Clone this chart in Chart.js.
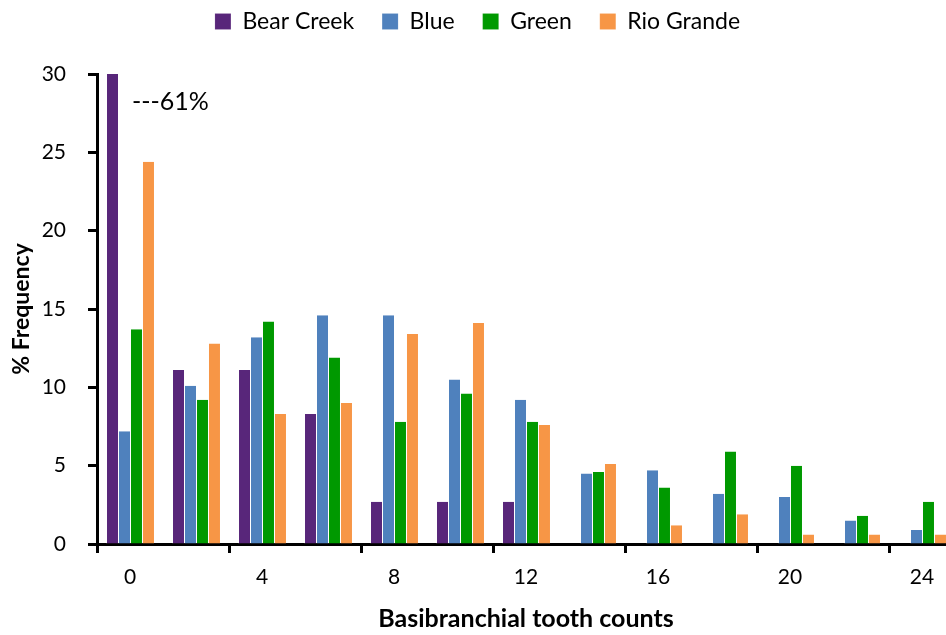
<!DOCTYPE html>
<html>
<head>
<meta charset="utf-8">
<script src="https://cdn.jsdelivr.net/npm/chart.js@4"></script>
<style>
  html, body { margin: 0; padding: 0; background: #fff; overflow: hidden; }
  #wrap { width: 960px; height: 635px; }
</style>
</head>
<body>
<div id="wrap"><canvas id="tooth-chart"></canvas></div>
<script>
// data
const toothCounts = ["0", "2", "4", "6", "8", "10", "12", "14", "16", "18", "20", "22", "24"];
const bearCreek = [61, 11.1, 11.1, 8.3, 2.7, 2.7, 2.7, 0, 0, 0, 0, 0, 0];
const blue = [7.2, 10.1, 13.2, 14.6, 14.6, 10.5, 9.2, 4.5, 4.7, 3.2, 3.0, 1.5, 0.9];
const green = [13.7, 9.2, 14.2, 11.9, 7.8, 9.6, 7.8, 4.6, 3.6, 5.9, 5.0, 1.8, 2.7];
const rioGrande = [24.4, 12.8, 8.3, 9.0, 13.4, 14.1, 7.6, 5.1, 1.2, 1.9, 0.6, 0.6, 0.6];
const yTicks = [0, 5, 10, 15, 20, 25, 30];
const truncatedNote = "---61%";

const fontFamily = "Lato, 'Liberation Sans', sans-serif";
Chart.defaults.font.family = fontFamily;
Chart.defaults.color = '#000';

// note next to the clipped Bear Creek bar
const notePlugin = {
  id: 'note',
  beforeLayout(chart) {
    // leave room between legend and plot
    const lg = chart.legend;
    if (lg && !lg._tall) {
      const fit = Object.getPrototypeOf(lg).fit;
      lg.fit = function () { fit.call(this); this.height = 92; };
      lg._tall = true;
    }
  },
  afterDatasetsDraw(chart) {
    const {ctx, scales: {x, y}} = chart;
    ctx.save();
    ctx.font = '25px ' + fontFamily;
    ctx.fillStyle = '#000';
    ctx.textAlign = 'left';
    ctx.textBaseline = 'middle';
    ctx.fillText(truncatedNote, x.getPixelForValue(0) + 2, y.getPixelForValue(28.2));
    ctx.restore();
  }
};

function makeSet(label, data, color) {
  return {
    label: label,
    data: data,
    backgroundColor: color,
    borderColor: 'rgba(255,255,255,0.45)',
    borderWidth: {left: 1, right: 0, top: 0, bottom: 0},
    categoryPercentage: 0.727,
    barPercentage: 1
  };
}

const toothChart = new Chart(document.getElementById('tooth-chart'), {
  type: 'bar',
  data: {
    labels: toothCounts,
    datasets: [
      makeSet('Bear Creek', bearCreek, '#58267A'),
      makeSet('Blue', blue, '#4F81BD'),
      makeSet('Green', green, '#009900'),
      makeSet('Rio Grande', rioGrande, '#F79646')
    ]
  },
  options: {
    responsive: true,
    maintainAspectRatio: false,
    animation: false,
    layout: {
      padding: {top: -18, right: 5, bottom: 0, left: 0}
    },
    plugins: {
      legend: {
        position: 'top',
        labels: {
          boxWidth: 16,
          boxHeight: 16,
          padding: 28,
          font: {size: 23}
        }
      },
      tooltip: {enabled: false}
    },
    scales: {
      x: {
        grid: {
          offset: true,
          drawOnChartArea: false,
          tickLength: 9,
          tickWidth: 3,
          color: ctx => ctx.index % 2 === 0 ? '#000' : 'rgba(0,0,0,0)'
        },
        border: {color: '#000', width: 3},
        ticks: {
          autoSkip: false,
          maxRotation: 0,
          padding: 12,
          font: {size: 21},
          callback: (v, i) => i % 2 === 0 ? toothCounts[i] : ''
        },
        title: {
          display: true,
          text: 'Basibranchial tooth counts',
          font: {size: 25, weight: 'bold'},
          padding: {top: 4, bottom: 1}
        },
        afterFit: s => { s.height = 91; }
      },
      y: {
        min: 0,
        max: 30,
        afterBuildTicks: s => { s.ticks = yTicks.map(v => ({value: v})); },
        grid: {
          drawOnChartArea: false,
          tickLength: 9,
          tickWidth: 3,
          color: '#000'
        },
        border: {color: '#000', width: 3},
        ticks: {
          padding: 22,
          font: {size: 21}
        },
        title: {
          display: true,
          text: '% Frequency',
          font: {size: 23, weight: 'bold'},
          padding: {top: 8, bottom: 8}
        },
        afterFit: s => { s.width = 97; }
      }
    }
  },
  plugins: [notePlugin]
});
</script>
</body>
</html>
